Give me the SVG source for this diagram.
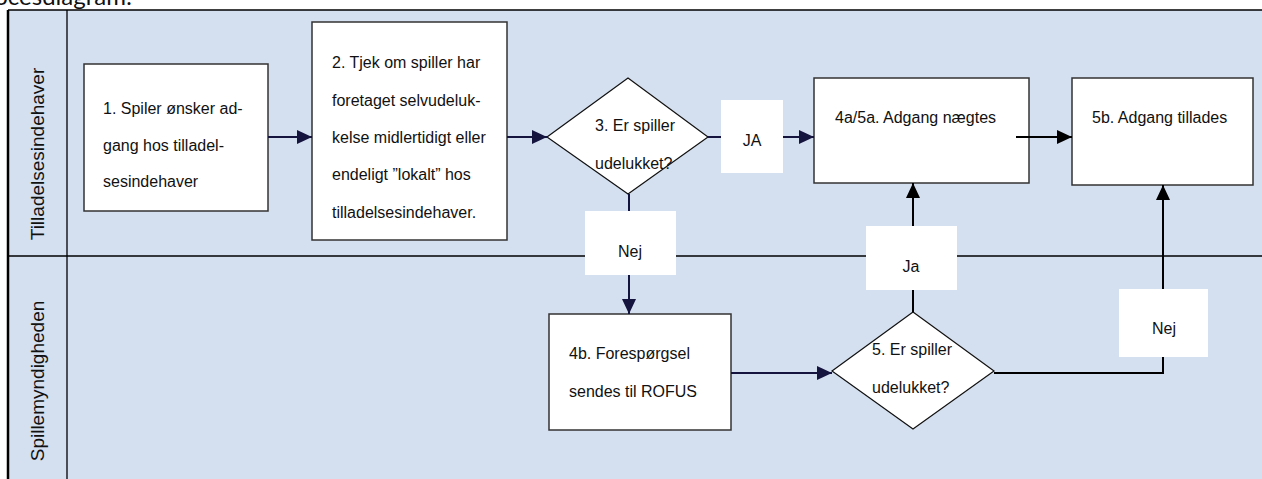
<svg xmlns="http://www.w3.org/2000/svg" width="1262" height="479" viewBox="0 0 1262 479">
<defs>
<style>
.t{font-family:"Liberation Sans",Arial,sans-serif;font-size:16px;fill:#111}
.lane{font-family:"Liberation Sans",Arial,sans-serif;font-size:19px;fill:#111}
.box{fill:#fff;stroke:#333;stroke-width:1.5}
.dia{fill:#fff;stroke:#111;stroke-width:1.2}
.lbl{fill:#fff;stroke:none}
.cn{fill:none;stroke:#14143f;stroke-width:2}
.cb{fill:none;stroke:#000;stroke-width:2}
</style>
<marker id="an" markerUnits="userSpaceOnUse" markerWidth="16" markerHeight="15" refX="15" refY="7" orient="auto">
<path d="M0,0 L15,7 L0,14 z" fill="#14143f"/>
</marker>
<marker id="ab" markerUnits="userSpaceOnUse" markerWidth="16" markerHeight="15" refX="15" refY="7" orient="auto">
<path d="M0,0 L15,7 L0,14 z" fill="#000"/>
</marker>
</defs>
<rect width="1262" height="479" fill="#fff"/>
<text x="132" y="5" text-anchor="end" style="font-family:Lato,'Liberation Sans',sans-serif;font-size:24px;fill:#111">Procesdiagram:</text>
<g id="pool">
<rect x="8" y="10" width="1260" height="475" fill="#D4DFEF"/>
<line x1="8" y1="10" x2="1262" y2="10" stroke="#000" stroke-width="1.3"/>
<line x1="8" y1="10" x2="8" y2="479" stroke="#000" stroke-width="2.5"/>
<line x1="67" y1="10" x2="67" y2="479" stroke="#000" stroke-width="1.3"/>
<line x1="8" y1="256" x2="1262" y2="256" stroke="#000" stroke-width="1.3"/>
<text class="lane" transform="translate(44,154) rotate(-90)" text-anchor="middle">Tilladelsesindehaver</text>
<text class="lane" transform="translate(44,381) rotate(-90)" text-anchor="middle">Spillemyndigheden</text>
</g>
<g id="n1">
<rect class="box" x="84" y="64" width="184" height="147"/>
<text class="t" x="103" y="114">1. Spiler ønsker ad-</text>
<text class="t" x="103" y="151">gang hos tilladel-</text>
<text class="t" x="103" y="187">sesindehaver</text>
</g>
<g id="n2">
<rect class="box" x="312" y="22" width="195" height="218"/>
<text class="t" x="332" y="68">2. Tjek om spiller har</text>
<text class="t" x="332" y="106">foretaget selvudeluk-</text>
<text class="t" x="332" y="143">kelse midlertidigt eller</text>
<text class="t" x="332" y="180">endeligt ”lokalt” hos</text>
<text class="t" x="332" y="218">tilladelsesindehaver.</text>
</g>
<g id="n3">
<polygon class="dia" points="547,137 628,78 708,137 628,194"/>
<text class="t" x="595" y="131">3. Er spiller</text>
<text class="t" x="595" y="169">udelukket?</text>
</g>
<g id="n4a">
<rect class="box" x="814" y="78" width="215" height="105"/>
<text class="t" x="835" y="123">4a/5a. Adgang nægtes</text>
</g>
<g id="n5b">
<rect class="box" x="1072" y="78" width="181" height="107"/>
<text class="t" x="1092" y="123">5b. Adgang tillades</text>
</g>
<g id="n4b">
<rect class="box" x="549" y="314" width="182" height="116"/>
<text class="t" x="569" y="359">4b. Forespørgsel</text>
<text class="t" x="569" y="397">sendes til ROFUS</text>
</g>
<g id="n5">
<polygon class="dia" points="832,371 913,312 994,371 913,429"/>
<text class="t" x="872" y="355">5. Er spiller</text>
<text class="t" x="872" y="393">udelukket?</text>
</g>
<g id="connectors">
<line class="cn" x1="268" y1="137" x2="312" y2="137" marker-end="url(#an)"/>
<line class="cn" x1="507" y1="137" x2="547" y2="137" marker-end="url(#an)"/>
<line class="cn" x1="708" y1="137" x2="814" y2="137" marker-end="url(#an)"/>
<line class="cn" x1="629" y1="194" x2="629" y2="314" marker-end="url(#an)"/>
<line class="cn" x1="731" y1="373" x2="832" y2="373" marker-end="url(#an)"/>
<line class="cb" x1="1016" y1="137" x2="1072" y2="137" marker-end="url(#ab)"/>
<line class="cb" x1="913" y1="312" x2="913" y2="183" marker-end="url(#ab)"/>
<polyline class="cb" points="994,373 1163,373 1163,185" marker-end="url(#ab)"/>
<rect class="lbl" x="721" y="100" width="62" height="73"/>
<text class="t" x="752" y="146" text-anchor="middle">JA</text>
<rect class="lbl" x="585" y="211" width="91" height="64"/>
<text class="t" x="630" y="257" text-anchor="middle">Nej</text>
<rect class="lbl" x="866" y="226" width="91" height="64"/>
<text class="t" x="911" y="272" text-anchor="middle">Ja</text>
<rect class="lbl" x="1119" y="289" width="89" height="68"/>
<text class="t" x="1164" y="334" text-anchor="middle">Nej</text>
</g>
</svg>
